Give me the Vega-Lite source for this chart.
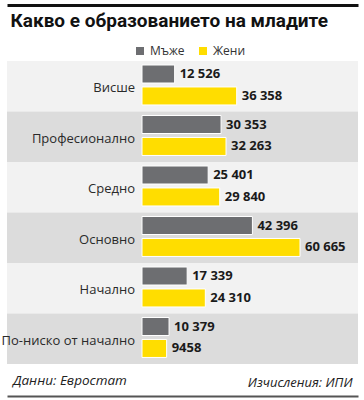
{
  "$schema": "https://vega.github.io/schema/vega-lite/v6.json",
  "width": 351,
  "height": 391,
  "autosize": {"type": "none"},
  "padding": {"left": 7, "top": 5, "right": 6, "bottom": 4},
  "background": "#ffffff",
  "config": {"view": {"stroke": null}, "font": "Open Sans"},
  "title": {"text": "Данни: Евростат", "orient": "bottom", "anchor": "start", "frame": "group", "offset": -11, "dx": 6, "baseline": "alphabetic",
    "fontSize": 13.5, "fontStyle": "italic", "fontWeight": "normal", "color": "#222222"},
  "data": {
    "values": [
      {"category": "Висше", "sex": "Мъже", "value": 12526, "label": "12 526"},
      {"category": "Висше", "sex": "Жени", "value": 36358, "label": "36 358"},
      {"category": "Професионално", "sex": "Мъже", "value": 30353, "label": "30 353"},
      {"category": "Професионално", "sex": "Жени", "value": 32263, "label": "32 263"},
      {"category": "Средно", "sex": "Мъже", "value": 25401, "label": "25 401"},
      {"category": "Средно", "sex": "Жени", "value": 29840, "label": "29 840"},
      {"category": "Основно", "sex": "Мъже", "value": 42396, "label": "42 396"},
      {"category": "Основно", "sex": "Жени", "value": 60665, "label": "60 665"},
      {"category": "Начално", "sex": "Мъже", "value": 17339, "label": "17 339"},
      {"category": "Начално", "sex": "Жени", "value": 24310, "label": "24 310"},
      {"category": "По-ниско от начално", "sex": "Мъже", "value": 10379, "label": "10 379"},
      {"category": "По-ниско от начално", "sex": "Жени", "value": 9458, "label": "9458"}
    ]
  },
  "resolve": {"axis": {"x": "independent", "y": "independent"}},
  "layer": [
    {
      "transform": [{"filter": "datum.sex === 'Мъже'"}],
      "mark": {"type": "rect"},
      "encoding": {
        "y": {"field": "category", "type": "nominal", "sort": null, "scale": {"paddingInner": 0, "paddingOuter": 0, "range": [56, 359]},
          "axis": {"orient": "left", "offset": 0, "labels": false, "ticks": false, "grid": false, "domain": false,
            "title": "Какво е образованието на младите", "titleFont": "Roboto", "titleFontSize": 19, "titleFontWeight": "bold", "titleColor": "#111111",
            "titleAngle": 0, "titleX": 3, "titleY": 21, "titleAlign": "left", "titleBaseline": "alphabetic"}},
        "x": {
          "datum": -51834, "type": "quantitative",
          "scale": {"domain": [-51834, 82933], "nice": false, "zero": false},
          "axis": {"orient": "bottom", "offset": 0, "labels": false, "ticks": false, "grid": false, "domain": true, "domainColor": "#555555", "domainWidth": 2, "title": null}
        },
        "x2": {"datum": 82933},
        "color": {
          "condition": {"test": "datum.category === 'Професионално' || datum.category === 'Основно' || datum.category === 'По-ниско от начално'", "value": "#dcdcdc"},
          "value": "#f2f2f2"
        }
      }
    },
    {
      "mark": {"type": "bar", "stroke": "#ffffff", "strokeWidth": 1},
      "encoding": {
        "y": {"field": "category", "type": "nominal", "sort": null,
          "axis": {"orient": "right", "offset": 0, "labels": false, "ticks": false, "grid": false, "domain": false,
            "title": "Изчисления: ИПИ", "titleAngle": 0, "titleX": -6, "titleY": 381, "titleAlign": "right", "titleBaseline": "alphabetic",
            "titleFontSize": 13, "titleFontStyle": "italic", "titleFontWeight": "normal", "titleColor": "#222222"}},
        "yOffset": {"field": "sex", "type": "nominal", "sort": ["Мъже", "Жени"], "scale": {"paddingInner": 0.18, "paddingOuter": 0.24, "align": 0.38}},
        "x": {"field": "value", "type": "quantitative", "axis": null},
        "x2": {"datum": 0},
        "color": {"field": "sex", "type": "nominal", "sort": ["Мъже", "Жени"],
          "scale": {"domain": ["Мъже", "Жени"], "range": ["#6d6e71", "#ffdd00"]},
          "legend": {"orient": "none", "legendX": 127, "legendY": 40, "direction": "horizontal", "title": null, "symbolType": "square", "symbolSize": 64,
            "symbolStrokeWidth": 0, "labelFontSize": 12, "labelColor": "#333333", "columnPadding": 12, "labelOffset": 4, "padding": 0}}
      }
    },
    {
      "mark": {"type": "text", "align": "left", "baseline": "middle", "dx": 5, "fontWeight": "bold", "fontSize": 13, "color": "#1a1a1a"},
      "encoding": {
        "y": {"field": "category", "type": "nominal", "sort": null, "axis": null},
        "yOffset": {"field": "sex", "type": "nominal", "sort": ["Мъже", "Жени"]},
        "x": {"field": "value", "type": "quantitative",
          "axis": {"orient": "top", "offset": 0, "labels": false, "ticks": false, "grid": false, "domain": true, "domainColor": "#111111", "domainWidth": 3, "title": null}},
        "text": {"field": "label"}
      }
    },
    {
      "transform": [{"filter": "datum.sex === 'Мъже'"}],
      "mark": {"type": "text", "align": "right", "baseline": "middle", "dx": -7, "dy": 2, "fontSize": 13, "color": "#2a2a2a"},
      "encoding": {
        "y": {"field": "category", "type": "nominal", "sort": null, "axis": null},
        "x": {"datum": 0, "type": "quantitative", "axis": null},
        "text": {"field": "category"}
      }
    }
  ]
}
